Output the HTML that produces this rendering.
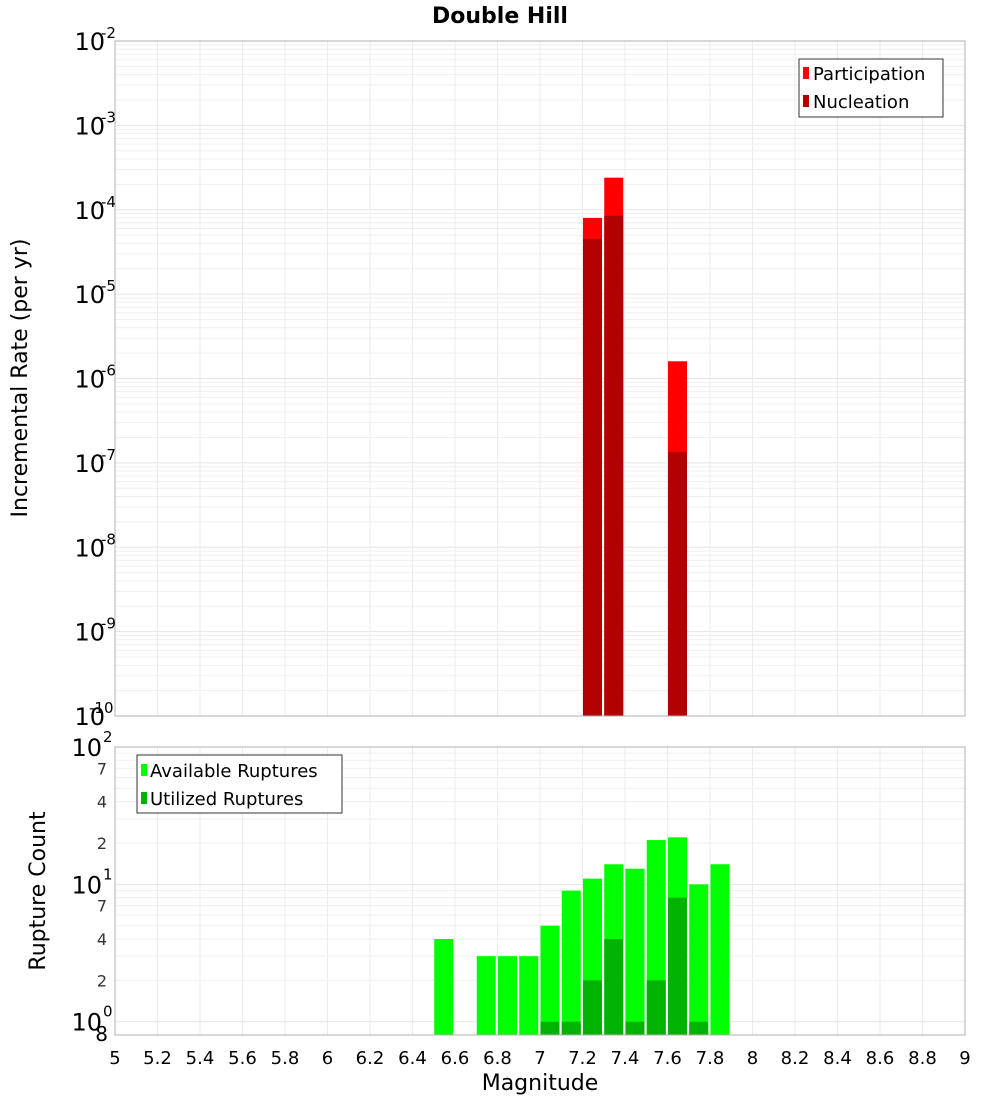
<!DOCTYPE html>
<html><head><meta charset="utf-8"><style>
body{margin:0;background:#fff}
svg{display:block;font-family:"DejaVu Sans","Liberation Sans",sans-serif}
</style></head><body>
<svg id="chart" width="1000" height="1100" xmlns="http://www.w3.org/2000/svg">
<text x="500" y="23" text-anchor="middle" font-size="22" font-weight="bold">Double Hill</text>
<g id="topplot"></g><g id="botplot"></g>
<text transform="translate(27,378) rotate(-90)" text-anchor="middle" font-size="22">Incremental Rate (per yr)</text>
<text transform="translate(45,891) rotate(-90)" text-anchor="middle" font-size="22">Rupture Count</text>
<text x="540" y="1090" text-anchor="middle" font-size="22">Magnitude</text>
</svg>
<script>
const partMags=[7.2,7.3,7.6];
const partRates=[8e-5,2.4e-4,1.6e-6];
const nuclRates=[4.5e-5,8.5e-5,1.35e-7];
const availMags=[6.5,6.7,6.8,6.9,7.0,7.1,7.2,7.3,7.4,7.5,7.6,7.7,7.8];
const availCounts=[4,3,3,3,5,9,11,14,13,21,22,10,14];
const utilMags=[7.0,7.1,7.2,7.3,7.4,7.5,7.6,7.7];
const utilCounts=[1,1,2,4,1,2,8,1];
const xTicks=[5,5.2,5.4,5.6,5.8,6,6.2,6.4,6.6,6.8,7,7.2,7.4,7.6,7.8,8,8.2,8.4,8.6,8.8,9];
const xTickLabels=["5","5.2","5.4","5.6","5.8","6","6.2","6.4","6.6","6.8","7","7.2","7.4","7.6","7.8","8","8.2","8.4","8.6","8.8","9"];
const topExps=[-2,-3,-4,-5,-6,-7,-8,-9,-10];
const botMinorVals=[7,4,2,70,40,20];
const botMinorLabels=["7","4","2","7","4","2"];

const NS="http://www.w3.org/2000/svg";
const X0=115,X1=965;
const xS=m=>X0+(m-5)/4*(X1-X0);
const T0=41,T1=716;
const yT=v=>T0+(-2-Math.log10(v))/8*(T1-T0);
const B0=747,B1=1035,bmin=0.8,bmax=100;
const yB=v=>B0+(Math.log10(bmax)-Math.log10(v))/(Math.log10(bmax)-Math.log10(bmin))*(B1-B0);
function mk(p,t,a){const e=document.createElementNS(NS,t);for(const k in a)e.setAttribute(k,a[k]);p.appendChild(e);return e;}
const topG=document.getElementById('topplot'),botG=document.getElementById('botplot');

for(let d=-10;d<-2;d++)for(let k=1;k<10;k++){const yy=yT(k*Math.pow(10,d));const l=mk(topG,'line',{x1:X0,x2:X1,y1:yy,y2:yy,stroke:k==1?'#e4e4e4':'#efefef','stroke-width':1});

}
xTicks.forEach(t=>{const l=mk(topG,'line',{x1:xS(t),x2:xS(t),y1:T0,y2:T1,stroke:'#ebebeb'});
 
 
 const l2=mk(botG,'line',{x1:xS(t),x2:xS(t),y1:B0,y2:B1,stroke:'#ebebeb'});
 
 });
const bw=19;
partMags.forEach((m,i)=>{
 const r=mk(topG,'rect',{x:xS(m)+0.5,y:yT(partRates[i]),width:bw,height:T1-yT(partRates[i]),fill:'#ff0000'});
 
 
 const n=mk(topG,'rect',{x:xS(m)+0.5,y:yT(nuclRates[i]),width:bw,height:T1-yT(nuclRates[i]),fill:'#b30000'});
 
 
});
const f1=mk(topG,'rect',{x:X0,y:T0,width:X1-X0,height:T1-T0,fill:'none',stroke:'#b0b0b0'});


topExps.forEach(e=>{const yy=yT(Math.pow(10,e));
 const t=mk(topG,'text',{x:105,y:yy+9,'text-anchor':'end','font-size':24});t.textContent='10';
 
 
 const s=mk(topG,'text',{x:e<=-10?89:101,y:yy-3,'font-size':15});s.textContent=String(e);
 
 
});
const lg=mk(topG,'g',{});


mk(lg,'rect',{x:799,y:59,width:144,height:58,fill:'#fff',stroke:'#333'});
mk(lg,'rect',{x:803,y:67,width:6,height:12,fill:'#ff0000'});
mk(lg,'rect',{x:803,y:95,width:6,height:12,fill:'#b30000'});
let t1=mk(lg,'text',{x:813,y:80,'font-size':18});t1.textContent='Participation';
let t2=mk(lg,'text',{x:813,y:108,'font-size':18});t2.textContent='Nucleation';

[1,2,3,4,5,6,7,8,9,10,20,30,40,50,60,70,80,90,100].forEach(v=>{const yy=yB(v);const l=mk(botG,'line',{x1:X0,x2:X1,y1:yy,y2:yy,stroke:(v==1||v==10)?'#e4e4e4':'#efefef'});

});
availMags.forEach((m,i)=>{const r=mk(botG,'rect',{x:xS(m)+0.5,y:yB(availCounts[i]),width:bw,height:B1-yB(availCounts[i]),fill:'#00ff00'});
 
 });
utilMags.forEach((m,i)=>{const r=mk(botG,'rect',{x:xS(m)+0.5,y:yB(utilCounts[i]),width:bw,height:B1-yB(utilCounts[i]),fill:'#00b300'});
 
 });
const f2=mk(botG,'rect',{x:X0,y:B0,width:X1-X0,height:B1-B0,fill:'none',stroke:'#b0b0b0'});


[[100,"2"],[10,"1"],[1,"0"]].forEach(([v,e])=>{const yy=yB(v);
 const t=mk(botG,'text',{x:102,y:yy+9,'text-anchor':'end','font-size':24});t.textContent='10';
 
 
 const s=mk(botG,'text',{x:103,y:yy-5,'font-size':15});s.textContent=e;
 
 });
botMinorVals.forEach((v,i)=>{const t=mk(botG,'text',{x:107,y:yB(v)+6,'text-anchor':'end','font-size':16,fill:'#333'});t.textContent=botMinorLabels[i];
 
 });
const t8=mk(botG,'text',{x:108,y:1041,'text-anchor':'end','font-size':20});t8.textContent='8';


xTicks.forEach((t,i)=>{const l=mk(botG,'text',{x:xS(t),y:1064,'text-anchor':'middle','font-size':18});l.textContent=xTickLabels[i];
 
 });
const lg2=mk(botG,'g',{});


mk(lg2,'rect',{x:137,y:755,width:205,height:58,fill:'#fff',stroke:'#333'});
mk(lg2,'rect',{x:141,y:764,width:6,height:12,fill:'#00ff00'});
mk(lg2,'rect',{x:141,y:792,width:6,height:12,fill:'#00b300'});
let t3=mk(lg2,'text',{x:150,y:777,'font-size':18});t3.textContent='Available Ruptures';
let t4=mk(lg2,'text',{x:150,y:805,'font-size':18});t4.textContent='Utilized Ruptures';
</script>
</body></html>
